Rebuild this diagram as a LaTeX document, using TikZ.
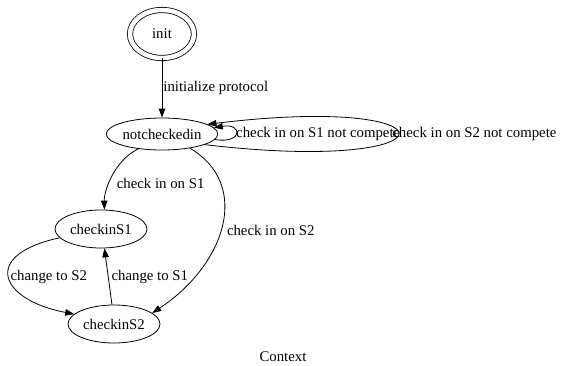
\documentclass[tikz,border=0pt]{standalone}
\usepackage{fontspec}
\setmainfont{Liberation Serif}
\usetikzlibrary{shapes.geometric,arrows.meta}
\begin{document}
\begin{tikzpicture}[x=1pt,y=1pt,
  every node/.style={font=\fontsize{14.8}{16}\selectfont},
  state/.style={ellipse,draw,line width=0.8pt,inner sep=0pt},
  edge/.style={draw,line width=0.8pt,-{Triangle[length=9pt,width=6.5pt]}},
  lab/.style={inner sep=1pt}]
\useasboundingbox (0,0) rectangle (570,365);
\node[state,double,double distance=4.5pt,minimum width=64pt,minimum height=48pt] (init) at (162,331) {init};
\node[state,minimum width=108pt,minimum height=32pt] (nc) at (162,231) {notcheckedin};
\node[state,minimum width=92pt,minimum height=38pt] (s1) at (101,136) {checkinS1};
\node[state,minimum width=92pt,minimum height=38pt] (s2) at (114,41) {checkinS2};
\node (ctx) at (283,8) {Context};

\draw[edge] (init) -- node[lab,right,midway] {initialize protocol} (nc);
\draw[edge] (nc.-6) .. controls (243,221) and (243,242) .. node[pos=0.5,right,inner sep=0pt] {check in on S1 not compete} (nc.7);
\draw[edge] (nc.-14) .. controls (462,190) and (462,272) .. node[pos=0.5,right,inner sep=0pt,xshift=-6pt] {check in on S2 not compete} (nc.12);
\draw[edge] (nc.212) .. controls (115,205) and (104,175) .. node[pos=0.6,right,inner sep=0pt,xshift=7pt] {check in on S1} (s1.80);
\draw[edge] (nc.333) .. controls (252,180) and (225,100) .. node[pos=0.52,right,inner sep=0pt,xshift=6pt] {check in on S2} (s2.16);
\draw[edge] (s1.192) .. controls (-20,110) and (0,65) .. node[pos=0.5,right,lab] {change to S2} (s2.166);
\draw[edge] (s2.96) -- node[pos=0.5,right,lab,xshift=2pt] {change to S1} (s1.-80);
\end{tikzpicture}
\end{document}
